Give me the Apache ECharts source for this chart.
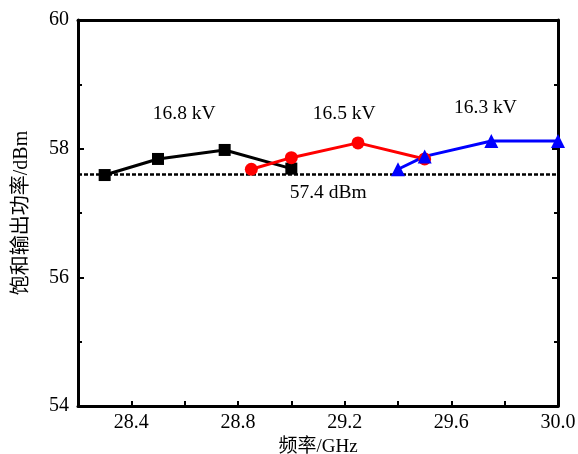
<!DOCTYPE html>
<html><head><meta charset="utf-8">
<script src="https://cdn.jsdelivr.net/npm/echarts@6/dist/echarts.min.js"></script>
<style>html,body{margin:0;padding:0;background:#fff}#c{width:578px;height:454px}</style>
</head><body><div id="c"></div>
<script>
const freq168 = [28.3, 28.5, 28.75, 29.0];
const pow168 = [57.59, 57.84, 57.98, 57.69];
const freq165 = [28.85, 29.0, 29.25, 29.5];
const pow165 = [57.68, 57.86, 58.09, 57.84];
const freq163 = [29.4, 29.5, 29.75, 30.0];
const pow163 = [57.68, 57.88, 58.12, 58.12];
const refLevel = 57.6;
const refRange = [28.2, 30.0];
const annotations = [
  {text: '16.8 kV', x: 28.6, y: 58.54},
  {text: '16.5 kV', x: 29.2, y: 58.54},
  {text: '16.3 kV', x: 29.73, y: 58.62},
  {text: '57.4 dBm', x: 29.14, y: 57.3}
];
const font = '"Liberation Serif", "Times New Roman", "Noto Sans CJK SC", serif';
const zip = (a, b) => a.map((v, i) => [v, b[i]]);
const chart = echarts.init(document.getElementById('c'));
const axLine = {show: true, lineStyle: {color: '#000', width: 3}};
const lineSeries = (xs, ys, color, symbol, size) => ({
  type: 'line', data: zip(xs, ys), symbol: symbol, symbolSize: size,
  lineStyle: {color: color, width: 3}, itemStyle: {color: color}, z: 3
});
chart.setOption({
  animation: false,
  grid: {left: 78, right: 20, top: 20, bottom: 48, containLabel: false, outerBoundsMode: 'none'},
  xAxis: [{
    type: 'value', min: 28.2, max: 30.0, interval: 0.2,
    axisLine: axLine, splitLine: {show: false},
    axisTick: {inside: true, length: 5, lineStyle: {width: 2, color: '#000'}},
    axisLabel: {fontFamily: font, fontSize: 20, color: '#000', margin: 7,
      formatter: v => (Math.round(v * 10) % 4 === 0 && v > 28.25) ? v.toFixed(1) : ''},
    name: '频率/GHz', nameLocation: 'middle', nameGap: 30,
    nameTextStyle: {fontFamily: font, fontSize: 19, color: '#000'}
  }, {
    type: 'value', position: 'top', min: 28.2, max: 30.0, interval: 0.2,
    axisLine: axLine, splitLine: {show: false},
    axisTick: {show: false}, axisLabel: {show: false}
  }],
  yAxis: [{
    type: 'value', min: 54, max: 60, interval: 2,
    axisLine: axLine, splitLine: {show: false},
    axisTick: {inside: true, length: 6, lineStyle: {width: 2, color: '#000'}},
    minorTick: {show: true, splitNumber: 2, length: 4, lineStyle: {width: 2, color: '#000'}},
    axisLabel: {fontFamily: font, fontSize: 20, color: '#000', margin: 9},
    name: '饱和输出功率/dBm', nameLocation: 'middle', nameGap: 46,
    nameTextStyle: {fontFamily: font, fontSize: 20, color: '#000'}
  }, {
    type: 'value', position: 'right', min: 54, max: 60, interval: 2,
    axisLine: axLine, splitLine: {show: false},
    axisTick: {inside: true, length: 6, lineStyle: {width: 2, color: '#000'}},
    minorTick: {show: true, splitNumber: 2, length: 4, lineStyle: {width: 2, color: '#000'}},
    axisLabel: {show: false}
  }],
  series: [
    {type: 'line', data: refRange.map(x => [x, refLevel]), symbol: 'none',
     lineStyle: {color: '#000', width: 2.5, type: [4, 2]}, z: 2},
    lineSeries(freq168, pow168, '#000', 'rect', 12),
    lineSeries(freq165, pow165, '#ff0000', 'circle', 13),
    lineSeries(freq163, pow163, '#0000ff', 'triangle', 14),
    {type: 'scatter', symbolSize: 1, itemStyle: {opacity: 0},
     data: annotations.map(a => ({value: [a.x, a.y], name: a.text})),
     label: {show: true, position: [0, 0], align: 'center', verticalAlign: 'middle',
       formatter: p => p.name, fontFamily: font, fontSize: 19.5, color: '#000', opacity: 1},
     emphasis: {disabled: true}, z: 5}
  ]
});
</script></body></html>
